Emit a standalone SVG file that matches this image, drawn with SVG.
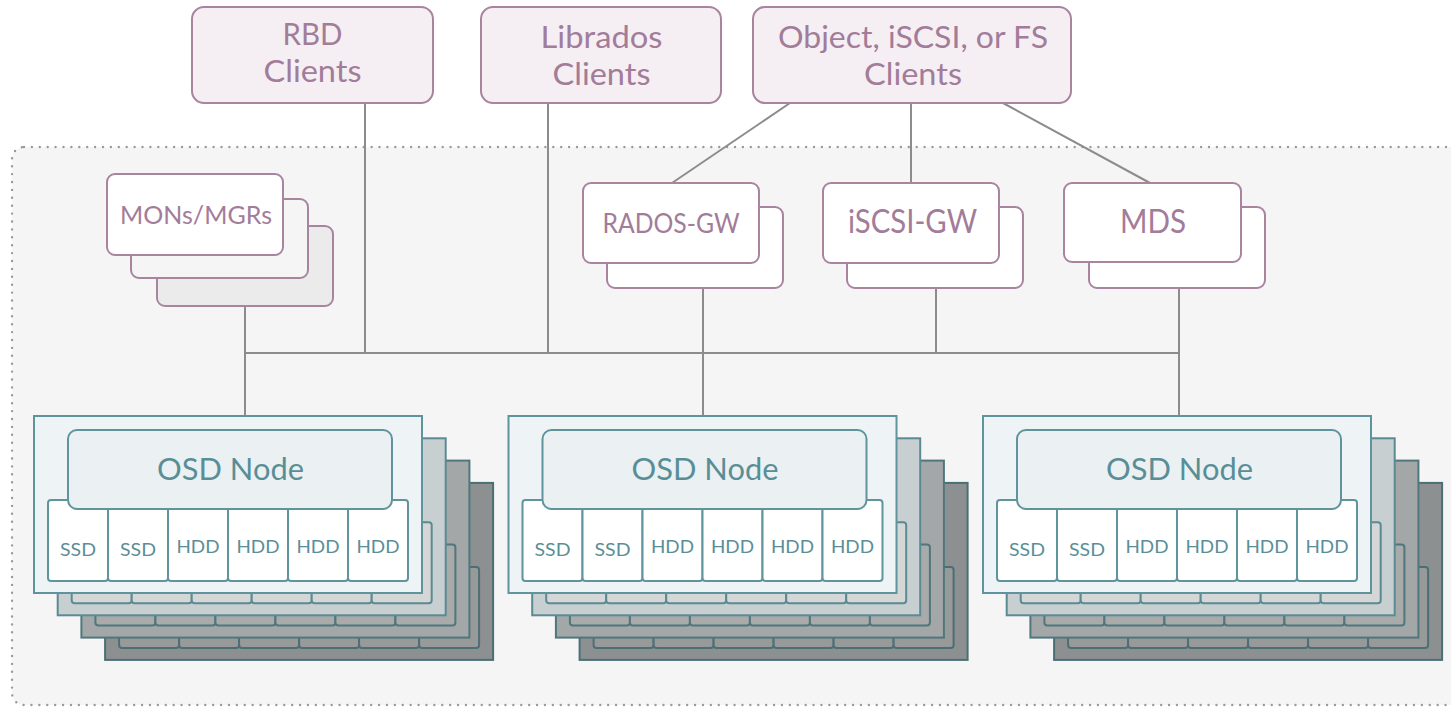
<svg xmlns="http://www.w3.org/2000/svg" xmlns:xlink="http://www.w3.org/1999/xlink" width="1451" height="707" viewBox="0 0 1451 707">
<style>
  .bg { fill:#ffffff; }
  .container { fill:#f5f5f5; stroke:#9a9a9a; stroke-width:2.4; stroke-dasharray:0 7.9; stroke-linecap:round; }
  .client { fill:#f5eff4; stroke:#a9849f; stroke-width:2; }
  .svc { fill:#ffffff; stroke:#a9849f; stroke-width:2; }
  .svc2 { fill:#f5f5f5; stroke:#a9849f; stroke-width:2; }
  .svc3 { fill:#ebebeb; stroke:#a9849f; stroke-width:2; }
  .ptxt { font-family:Lato,"Open Sans","Noto Sans",sans-serif; fill:#a27c99; text-anchor:middle; }
  .ttxt { font-family:Lato,"Open Sans","Noto Sans",sans-serif; fill:#5a8e97; text-anchor:middle; }
  .conn { stroke:#8c8c8c; stroke-width:2; fill:none; }
  .l1 { fill:#eef3f5; stroke:#5f949c; stroke-width:2; }
  .osd { fill:#ebf1f3; stroke:#5f949c; stroke-width:2; }
  .drv { fill:#ffffff; stroke:#5f949c; stroke-width:2; }
  .l2 { fill:#c8cfd0; stroke:#5a8b93; stroke-width:2; }
  .d2 { fill:#d5d6d6; stroke:#5a8b93; stroke-width:2; }
  .l3 { fill:#a4a7a8; stroke:#4f777c; stroke-width:2; }
  .d3 { fill:#a9aaaa; stroke:#4f777c; stroke-width:2; }
  .l4 { fill:#8d9091; stroke:#4a6f74; stroke-width:2; }
  .d4 { fill:#989999; stroke:#4a6f74; stroke-width:2; }
</style>
<defs>
  <g id="backDrives">
    <rect x="14" y="84" width="60" height="81" rx="3"/>
    <rect x="74" y="84" width="60" height="81" rx="3"/>
    <rect x="134" y="84" width="60" height="81" rx="3"/>
    <rect x="194" y="84" width="60" height="81" rx="3"/>
    <rect x="254" y="84" width="60" height="81" rx="3"/>
    <rect x="314" y="84" width="60" height="81" rx="3"/>
  </g>
  <g id="osdStack">
    <g transform="translate(71.1,66.9)">
      <rect class="l4" x="0" y="0" width="388" height="177"/>
      <use xlink:href="#backDrives" class="d4"/>
    </g>
    <g transform="translate(47.4,44.6)">
      <rect class="l3" x="0" y="0" width="388" height="177"/>
      <use xlink:href="#backDrives" class="d3"/>
    </g>
    <g transform="translate(23.7,22.3)">
      <rect class="l2" x="0" y="0" width="388" height="177"/>
      <use xlink:href="#backDrives" class="d2"/>
    </g>
    <g>
      <rect class="l1" x="0" y="0" width="388" height="177"/>
      <rect class="drv" x="14" y="84" width="60" height="81" rx="3"/>
      <rect class="drv" x="74" y="84" width="60" height="81" rx="3"/>
      <rect class="drv" x="134" y="84" width="60" height="81" rx="3"/>
      <rect class="drv" x="194" y="84" width="60" height="81" rx="3"/>
      <rect class="drv" x="254" y="84" width="60" height="81" rx="3"/>
      <rect class="drv" x="314" y="84" width="60" height="81" rx="3"/>
      <rect class="osd" x="34" y="14" width="324" height="79" rx="9"/>
      <text class="ttxt" x="196.5" y="64" font-size="30" textLength="147" lengthAdjust="spacingAndGlyphs">OSD Node</text>
      <text class="ttxt" x="44" y="140" font-size="18" textLength="36" lengthAdjust="spacingAndGlyphs">SSD</text>
      <text class="ttxt" x="104" y="140" font-size="18" textLength="36" lengthAdjust="spacingAndGlyphs">SSD</text>
      <text class="ttxt" x="164" y="137" font-size="18" textLength="43" lengthAdjust="spacingAndGlyphs">HDD</text>
      <text class="ttxt" x="224" y="137" font-size="18" textLength="43" lengthAdjust="spacingAndGlyphs">HDD</text>
      <text class="ttxt" x="284" y="137" font-size="18" textLength="43" lengthAdjust="spacingAndGlyphs">HDD</text>
      <text class="ttxt" x="344" y="137" font-size="18" textLength="43" lengthAdjust="spacingAndGlyphs">HDD</text>
    </g>
  </g>
</defs>

<rect class="bg" x="0" y="0" width="1451" height="707"/>
<rect id="cluster" class="container" x="12" y="147" width="1480" height="558" rx="12"/>

<g id="connectors">
  <line class="conn" x1="365" y1="103" x2="365" y2="353"/>
  <line class="conn" x1="548" y1="103" x2="548" y2="353"/>
  <line class="conn" x1="790" y1="103" x2="672" y2="183"/>
  <line class="conn" x1="911" y1="103" x2="911" y2="183"/>
  <line class="conn" x1="1003" y1="103" x2="1150" y2="183"/>
  <line class="conn" x1="245" y1="353" x2="1179" y2="353"/>
  <line class="conn" x1="245" y1="306" x2="245" y2="416"/>
  <line class="conn" x1="703" y1="288" x2="703" y2="416"/>
  <line class="conn" x1="936" y1="288" x2="936" y2="353"/>
  <line class="conn" x1="1179" y1="288" x2="1179" y2="416"/>
</g>

<g id="rbd-clients">
  <rect class="client" x="192" y="7" width="241" height="96" rx="12"/>
  <text class="ptxt" x="312.5" y="45" font-size="30" textLength="60" lengthAdjust="spacingAndGlyphs">RBD</text>
  <text class="ptxt" x="312.5" y="82" font-size="30" textLength="98" lengthAdjust="spacingAndGlyphs">Clients</text>
</g>
<g id="librados-clients">
  <rect class="client" x="481" y="7" width="240" height="96" rx="12"/>
  <text class="ptxt" x="601.5" y="48" font-size="30" textLength="122" lengthAdjust="spacingAndGlyphs">Librados</text>
  <text class="ptxt" x="601.5" y="85" font-size="30" textLength="98" lengthAdjust="spacingAndGlyphs">Clients</text>
</g>
<g id="object-clients">
  <rect class="client" x="753" y="7" width="318" height="96" rx="12"/>
  <text class="ptxt" x="913" y="48" font-size="30" textLength="270" lengthAdjust="spacingAndGlyphs">Object, iSCSI, or FS</text>
  <text class="ptxt" x="913" y="85" font-size="30" textLength="98" lengthAdjust="spacingAndGlyphs">Clients</text>
</g>

<g id="mons-mgrs">
  <rect class="svc3" x="157" y="226" width="176" height="80" rx="8"/>
  <rect class="svc2" x="131" y="199" width="177" height="79" rx="8"/>
  <rect class="svc" x="107" y="174" width="176" height="81" rx="8"/>
  <text class="ptxt" x="196" y="224" font-size="25" textLength="152" lengthAdjust="spacingAndGlyphs">MONs/MGRs</text>
</g>

<g id="rados-gw">
  <rect class="svc" x="607" y="207" width="176" height="81" rx="8"/>
  <rect class="svc" x="583" y="183" width="176" height="80" rx="8"/>
  <text class="ptxt" x="671" y="233" font-size="26" textLength="137" lengthAdjust="spacingAndGlyphs">RADOS-GW</text>
</g>
<g id="iscsi-gw">
  <rect class="svc" x="847" y="207" width="176" height="81" rx="8"/>
  <rect class="svc" x="823" y="183" width="176" height="80" rx="8"/>
  <text class="ptxt" x="912.5" y="233" font-size="33" textLength="129" lengthAdjust="spacingAndGlyphs">iSCSI-GW</text>
</g>
<g id="mds">
  <rect class="svc" x="1089" y="207" width="176" height="81" rx="8"/>
  <rect class="svc" x="1064" y="183" width="177" height="79" rx="8"/>
  <text class="ptxt" x="1153" y="233" font-size="33" textLength="66" lengthAdjust="spacingAndGlyphs">MDS</text>
</g>

<g id="osd-node-1" transform="translate(34,416)"><use xlink:href="#osdStack"/></g>
<g id="osd-node-2" transform="translate(508.5,416)"><use xlink:href="#osdStack"/></g>
<g id="osd-node-3" transform="translate(983,416)"><use xlink:href="#osdStack"/></g>
</svg>
